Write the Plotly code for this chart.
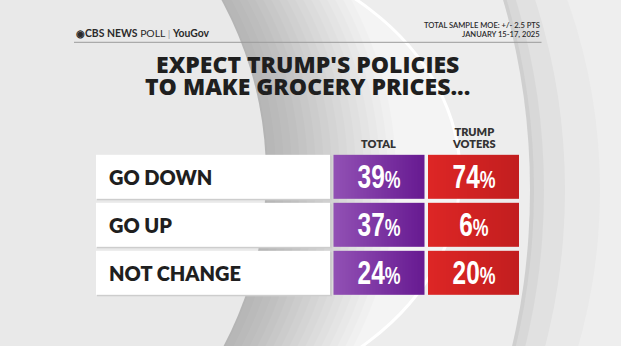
import numpy as np
import plotly.graph_objects as go

# ---------------- data ----------------
categories = ["GO DOWN", "GO UP", "NOT CHANGE"]
total = [39, 37, 24]
trump_voters = [74, 6, 20]
column_headers = [["TOTAL"], ["TRUMP", "VOTERS"]]
title_lines = ["EXPECT TRUMP'S POLICIES", "TO MAKE GROCERY PRICES..."]
brand_text = "<b>◉CBS NEWS</b> POLL <span style='color:#999'>|</span> <b>YouGov</b>"
moe_lines = ["TOTAL SAMPLE MOE: +/- 2.5 PTS", "JANUARY 15-17, 2025"]

# ---------------- layout constants (pixels) ----------------
W, H = 621, 346
LABEL_COL = (96, 330)
TOTAL_COL = (333.5, 424)
TRUMP_COL = (428, 519)
ROWS_TOP, ROWS_BOTTOM = 152.8, 296.8
N_GRAD = 30

# base size sets the line pitch (1.3 em); the span size sets the glyph size
TITLE_FONT = dict(family="Open Sans", size=17.3, color="#1f1f1f", weight=800)
TITLE_GLYPH = 23
LABEL_FONT = dict(family="Lato", size=20, color="#1f1f1f", weight=800)
HEAD_FONT = dict(family="Lato", size=8.9, color="#333333", weight=800)
HEAD_GLYPH = 11
PCT_FONT = dict(family="Liberation Sans", size=33, color="white", weight=700)

fig = go.Figure()

def row_domain(shift=0):
    return [1 - (ROWS_BOTTOM + shift) / H, 1 - (ROWS_TOP + shift) / H]

# shadow under label boxes (drawn first, on y2)
fig.add_trace(go.Heatmap(
    x=[LABEL_COL[0] + 1, LABEL_COL[1] + 1.5], y=categories, z=[[0] for _ in categories],
    colorscale=[[0, "#cdcdcd"], [1, "#cdcdcd"]], showscale=False, ygap=4,
    hoverinfo="skip", xaxis="x", yaxis="y2"))

# label column (white boxes)
fig.add_trace(go.Heatmap(
    x=list(LABEL_COL), y=categories, z=[[0] for _ in categories],
    colorscale=[[0, "white"], [1, "white"]], showscale=False, ygap=4,
    hoverinfo="skip", xaxis="x", yaxis="y3"))

# gradient columns
grad = list(np.linspace(0, 1, N_GRAD))
for col, cs in [(TOTAL_COL, [[0, "#9150b4"], [1, "#681b92"]]),
                (TRUMP_COL, [[0, "#dd2625"], [1, "#c21e1f"]])]:
    fig.add_trace(go.Heatmap(
        x=list(np.linspace(col[0], col[1], N_GRAD + 1)), y=categories,
        z=[grad for _ in categories], colorscale=cs, zmin=0, zmax=1,
        showscale=False, ygap=4, hoverinfo="skip", xaxis="x", yaxis="y3"))

def sized_lines(lines, px):
    return "<br>".join(f"<span style='font-size:{px}px'>{t}</span>" for t in lines)

annotations = []
for c in categories:
    annotations.append(dict(x=LABEL_COL[0] + 11, y=c, xref="x", yref="y3", text=c,
                            showarrow=False, xanchor="left", yanchor="middle", font=LABEL_FONT))
for vals, col in [(total, TOTAL_COL), (trump_voters, TRUMP_COL)]:
    for c, v in zip(categories, vals):
        annotations.append(dict(
            x=(col[0] + col[1]) / 2, y=c, xref="x", yref="y3",
            text=f"{v}<span style='font-size:24px'>%</span>",
            showarrow=False, xanchor="center", yanchor="middle", font=PCT_FONT))
for h, col in zip(column_headers, [TOTAL_COL, TRUMP_COL]):
    annotations.append(dict(x=(col[0] + col[1]) / 2, y=150.5, xref="x", yref="y",
                            text=sized_lines(h, HEAD_GLYPH),
                            showarrow=False, xanchor="center", yanchor="bottom",
                            font=HEAD_FONT, align="center", borderpad=0))
annotations.append(dict(x=307, y=75, xref="x", yref="y", text=sized_lines(title_lines, TITLE_GLYPH),
                        showarrow=False, xanchor="center", yanchor="middle",
                        font=TITLE_FONT, align="center", borderpad=0))
annotations.append(dict(x=74, y=32.5, xref="x", yref="y", text=brand_text, showarrow=False,
                        xanchor="left", yanchor="middle",
                        font=dict(family="Lato", size=10.4, color="#2a2a2a")))
for i, t in enumerate(moe_lines):
    annotations.append(dict(x=541.5, y=25.2 + i * 8.4, xref="x", yref="y", text=t,
                            showarrow=False, xanchor="right", yanchor="middle",
                            font=dict(family="Lato", size=7.6, color="#2a2a2a", weight=600)))

shapes = []
def ell(cx, cy, rx, ry, fill, opacity=1.0, line=None):
    shapes.append(dict(type="circle", xref="x", yref="y", x0=cx - rx, x1=cx + rx,
                       y0=cy - ry, y1=cy + ry, fillcolor=fill, opacity=opacity,
                       layer="below", line=line or dict(width=0)))

ell(200, 190, 330 + 70, 480, "#e9e9e9")
ell(200, 190, 330 + 35, 480, "#e1e1e1")
ell(200, 190, 330 + 14, 480, "#d8d8d8")
ell(200, 190, 330 + 4, 480, "#cfcfcf")
ell(200, 190, 330, 480, "#ededed")
ell(150, 175, 310, 235, "#f4f4f4", line=dict(color="white", width=3))
for s in np.arange(130, 0, -8):
    ell(-100 + s, 175, 366, 366, "black", opacity=0.015)
ell(-100, 175, 366, 366, "#e9e9e9")

shapes.append(dict(type="line", xref="x", yref="y", x0=74, x1=541.5, y0=42.3, y1=42.3,
                   line=dict(color="#9a9a9a", width=1)))

fig.update_layout(
    width=W, height=H, margin=dict(l=0, r=0, t=0, b=0),
    paper_bgcolor="#eeeeee", plot_bgcolor="rgba(0,0,0,0)",
    showlegend=False,
    xaxis=dict(range=[0, W], visible=False, fixedrange=True),
    yaxis=dict(range=[H, 0], visible=False, fixedrange=True, domain=[0, 1]),
    yaxis2=dict(type="category", categoryorder="array", categoryarray=categories,
                range=[2.5, -0.5], visible=False, fixedrange=True, anchor="x",
                domain=row_domain(1.5)),
    yaxis3=dict(type="category", categoryorder="array", categoryarray=categories,
                range=[2.5, -0.5], visible=False, fixedrange=True, anchor="x",
                domain=row_domain()),
    shapes=shapes, annotations=annotations,
)

# condense the percentage figures horizontally (the original uses a condensed face)
post_js = """
var gd = document.getElementById('{plot_id}');
gd.querySelectorAll('text.annotation-text').forEach(function(t){
  if (/^\\d+%$/.test(t.textContent.trim())) {
    var b = t.getBBox(); var cx = b.x + b.width / 2;
    t.setAttribute('transform', 'translate(' + cx + ',0) scale(0.74,1) translate(' + (-cx) + ',0)');
  }
});
"""

fig.write_html("out.html", post_script=post_js)
